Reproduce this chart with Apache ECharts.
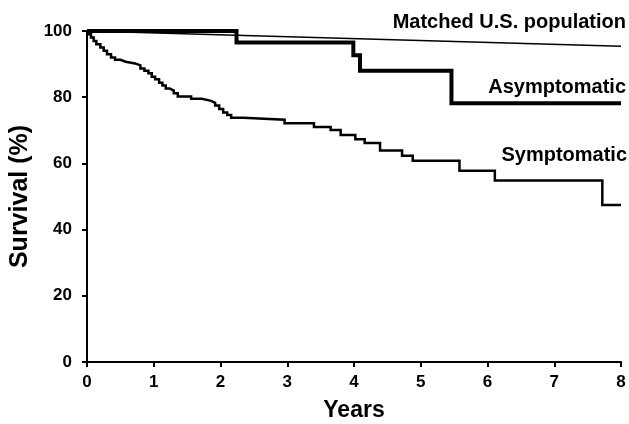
<!DOCTYPE html>
<html><head><meta charset="utf-8">
<script src="https://cdn.jsdelivr.net/npm/echarts@6/dist/echarts.min.js"></script>
<style>html,body{margin:0;padding:0;background:#fff}#c{width:629px;height:424px}</style>
</head><body><div id="c"></div>
<script>
// Kaplan-Meier style step data: [years, survival %]
var symptomaticTimes  = [0, 0.02, 0.06, 0.10, 0.14, 0.20, 0.25, 0.30, 0.36, 0.42, 0.50, 0.58, 0.72, 0.80, 0.86, 0.92, 0.97, 1.02, 1.08, 1.13, 1.18, 1.24, 1.30, 1.36, 1.56, 1.72, 1.86, 1.92, 1.98, 2.04, 2.10, 2.16, 2.34, 2.96, 3.40, 3.65, 3.80, 4.02, 4.16, 4.39, 4.72, 4.88, 5.58, 6.11, 7.72, 8.0];
var symptomaticValues = [100, 99, 98, 97, 96, 95, 94, 93, 92, 91.3, 90.7, 90.2, 89.6, 88.7, 88, 87.2, 86.2, 85.4, 84.4, 83.5, 82.6, 82, 81.2, 80.2, 79.5, 78.9, 78.3, 77.5, 76.4, 75.4, 74.6, 73.8, 73.2, 72.1, 71, 70.1, 68.6, 67.3, 66.2, 63.9, 62.3, 60.8, 57.8, 54.8, 47.4, 47.4];
var asymptomaticTimes  = [0, 2.24, 3.99, 4.09, 5.46, 8.0];
var asymptomaticValues = [100, 96.5, 92.7, 88.0, 78.2, 78.2];
var matchedTimes  = [0, 8];
var matchedValues = [100, 95.4];
var xTicks = [0, 1, 2, 3, 4, 5, 6, 7, 8];
var yTicks = [0, 20, 40, 60, 80, 100];
var seriesLabels = ['Matched U.S. population', 'Asymptomatic', 'Symptomatic'];

function zip(a, b) { return a.map(function (v, i) { return [v, b[i]]; }); }
var FONT = 'Liberation Sans, Arial, Helvetica, sans-serif';
var chart = echarts.init(document.getElementById('c'), null, {renderer: 'canvas'});
chart.setOption({
  animation: false,
  backgroundColor: '#fff',
  grid: {left: 87, right: 8, top: 31, bottom: 62, containLabel: false, outerBoundsMode: 'none'},
  xAxis: {
    type: 'value', min: 0, max: 8, interval: 1,
    name: 'Years', nameLocation: 'middle', nameGap: 37,
    nameTextStyle: {fontFamily: FONT, fontWeight: 'bold', fontSize: 23, color: '#000'},
    axisLine: {lineStyle: {color: '#000', width: 2}},
    axisTick: {show: true, length: 5, lineStyle: {color: '#000', width: 2}},
    axisLabel: {fontFamily: FONT, fontWeight: 'bold', fontSize: 17, color: '#000', margin: 12,
      formatter: function (v) { return xTicks.indexOf(v) >= 0 ? String(v) : ''; }},
    splitLine: {show: false}
  },
  yAxis: {
    type: 'value', min: 0, max: 100, interval: 20,
    name: 'Survival (%)', nameLocation: 'middle', nameGap: 52, nameRotate: 90,
    nameTextStyle: {fontFamily: FONT, fontWeight: 'bold', fontSize: 25, color: '#000'},
    axisLine: {show: true, lineStyle: {color: '#000', width: 2}},
    axisTick: {show: true, length: 5, lineStyle: {color: '#000', width: 2}},
    axisLabel: {fontFamily: FONT, fontWeight: 'bold', fontSize: 17, color: '#000', margin: 15,
      formatter: function (v) { return yTicks.indexOf(v) >= 0 ? String(v) : ''; }},
    splitLine: {show: false}
  },
  series: [
    {name: seriesLabels[0], type: 'line', data: zip(matchedTimes, matchedValues), symbol: 'none',
      lineStyle: {color: '#000', width: 1.3}, z: 3},
    {name: seriesLabels[1], type: 'line', step: 'end', data: zip(asymptomaticTimes, asymptomaticValues), symbol: 'none',
      lineStyle: {color: '#000', width: 4, join: 'miter', cap: 'butt'}, z: 4},
    {name: seriesLabels[2], type: 'line', step: 'end', data: zip(symptomaticTimes, symptomaticValues), symbol: 'none',
      lineStyle: {color: '#000', width: 2.5, join: 'miter', cap: 'butt'}, z: 5}
  ],
  graphic: [
    {type: 'text', right: 3, top: 12, style: {text: seriesLabels[0], font: 'bold 20px ' + FONT, fill: '#000'}},
    {type: 'text', right: 3, top: 77, style: {text: seriesLabels[1], font: 'bold 20px ' + FONT, fill: '#000'}},
    {type: 'text', right: 2, top: 145, style: {text: seriesLabels[2], font: 'bold 20px ' + FONT, fill: '#000'}}
  ]
});
</script></body></html>
